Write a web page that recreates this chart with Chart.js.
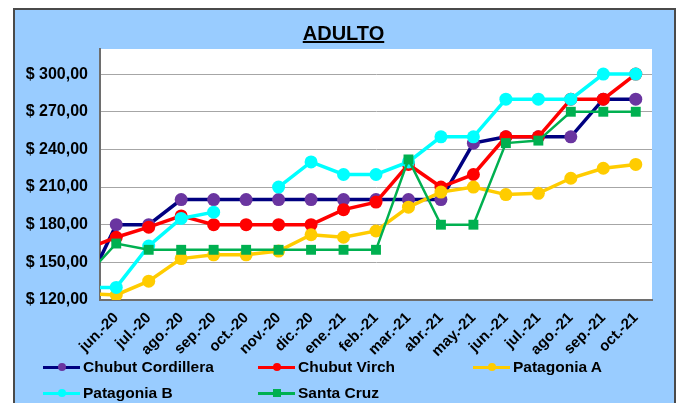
<!DOCTYPE html>
<html>
<head>
<meta charset="utf-8">
<script src="https://cdn.jsdelivr.net/npm/chart.js@4.4.1/dist/chart.umd.min.js"></script>
<style>
  body { margin:0; background:#fff; }
  #wrap { position:relative; width:680px; height:403px; overflow:hidden; background:#fff;
          font-family:"Liberation Sans", Arial, sans-serif; }
  #box { position:absolute; left:13px; top:8px; width:659px; height:410px;
         background:#99ccff; border:2px solid #4a4a4a; }
  #c { position:absolute; left:0; top:0; }
  #title { position:absolute; left:7px; width:673px; top:23px; text-align:center;
           font-weight:bold; font-size:20px; line-height:20px; text-decoration:underline; color:#000; }
  .item { position:absolute; height:20px; display:flex; align-items:center;
          font-weight:bold; font-size:15.5px; color:#000; white-space:nowrap; }
  .mk { position:relative; width:37px; height:3px; margin-right:3px; }
  .mk span { position:absolute; left:15px; top:-2.5px; width:8px; height:8px; }
</style>
</head>
<body>
<div id="wrap">
  <div id="box"></div>
  <canvas id="c" width="680" height="403"></canvas>
  <div id="title">ADULTO</div>
  <div id="legend"></div>
</div>
<script>
// categories ('may.-20' is only the lead-in point, cut off at the left edge)
const months = ['may.-20','jun.-20','jul.-20','ago.-20','sep.-20','oct.-20','nov.-20','dic.-20',
  'ene.-21','feb.-21','mar.-21','abr.-21','may.-21','jun.-21','jul.-21','ago.-21','sep.-21','oct.-21'];

const chubutCordillera = [126,180,180,200,200,200,200,200,200,200,200,200,245,250,250,250,280,280];
const chubutVirch      = [160,170,178,187,180,180,180,180,192,198,228,210,220,250,250,280,280,300];
const patagoniaA       = [125,124,135,153,156,156,159,172,170,175,194,206,210,204,205,217,225,228];
const patagoniaB       = [130,130,163,185,190,null,210,230,220,220,230,250,250,280,280,280,300,300];
const santaCruz        = [137,165,160,160,160,160,160,160,160,160,232,180,180,245,247,270,270,270];

const yTicks = [120,150,180,210,240,270,300];

const series = [
  { name:'Chubut Cordillera', data:chubutCordillera, line:'#000080', dot:'#6a35a0', shape:'circle', w:3.5 },
  { name:'Chubut Virch',      data:chubutVirch,      line:'#ff0000', dot:'#ff0000', shape:'circle', w:3.5 },
  { name:'Patagonia A',       data:patagoniaA,       line:'#ffcc00', dot:'#ffcc00', shape:'circle', w:3.5 },
  { name:'Patagonia B',       data:patagoniaB,       line:'#00ffff', dot:'#00ffff', shape:'circle', w:3.5 },
  { name:'Santa Cruz',        data:santaCruz,        line:'#00b050', dot:'#00b050', shape:'rect',   w:2.5 }
];

// white plot area
const plotBg = {
  id:'plotBg',
  beforeDraw(chart) {
    const a = chart.chartArea, ctx = chart.ctx;
    ctx.save();
    ctx.fillStyle = '#fff';
    ctx.fillRect(a.left, a.top, a.right - a.left, a.bottom - a.top);
    ctx.restore();
  }
};

const boldFont = { family:"'Liberation Sans', Arial, sans-serif", weight:'bold', size:15 };

new Chart(document.getElementById('c'), {
  type:'line',
  data:{
    labels: months,
    datasets: series.map(function(s, i) {
      return {
        label: s.name, data: s.data,
        borderColor: s.line, borderWidth: s.w,
        backgroundColor: s.dot,
        pointBackgroundColor: s.dot, pointBorderColor: s.dot, pointBorderWidth: 0,
        pointStyle: s.shape, pointRadius: s.shape === 'rect' ? 7 : 6.5,
        tension: 0, spanGaps: false, clip: 0,
        order: series.length - i
      };
    })
  },
  options:{
    responsive:false, animation:false,
    layout:{ padding:{ top:49, right:28, left:0, bottom:0 } },
    plugins:{ legend:{ display:false }, title:{ display:false }, tooltip:{ enabled:false } },
    scales:{
      x:{
        min:'jun.-20', offset:true,
        grid:{ display:false },
        border:{ display:true, color:'#6e6e6e', width:2 },
        ticks:{ color:'#000', font:boldFont, autoSkip:false, maxRotation:45, minRotation:45, padding:1 },
        afterFit(scale) { scale.height = 103; }
      },
      y:{
        min:120, max:320,
        afterBuildTicks(scale) { scale.ticks = yTicks.map(function(v){ return { value:v }; }); },
        grid:{ color:'#a6a6a6', lineWidth:1, drawTicks:false },
        border:{ display:true, color:'#6e6e6e', width:2 },
        ticks:{ color:'#000', font:{ family:boldFont.family, weight:'bold', size:16 }, padding:12,
                callback:function(v){ return '$ ' + v + ',00'; } },
        afterFit(scale) { scale.width = 100; }
      }
    }
  },
  plugins:[plotBg]
});

// legend in three fixed columns, like the spreadsheet one
const legend = document.getElementById('legend');
const colX = [43, 258, 473], rowY = [357, 383];
series.forEach(function(s, i) {
  const it = document.createElement('div');
  it.className = 'item';
  it.style.left = colX[i % 3] + 'px';
  it.style.top = rowY[Math.floor(i / 3)] + 'px';
  const mk = document.createElement('div');
  mk.className = 'mk';
  mk.style.background = s.line;
  const dot = document.createElement('span');
  dot.style.background = s.dot;
  if (s.shape === 'circle') dot.style.borderRadius = '50%';
  mk.appendChild(dot);
  it.appendChild(mk);
  it.appendChild(document.createTextNode(s.name));
  legend.appendChild(it);
});
</script>
</body>
</html>
